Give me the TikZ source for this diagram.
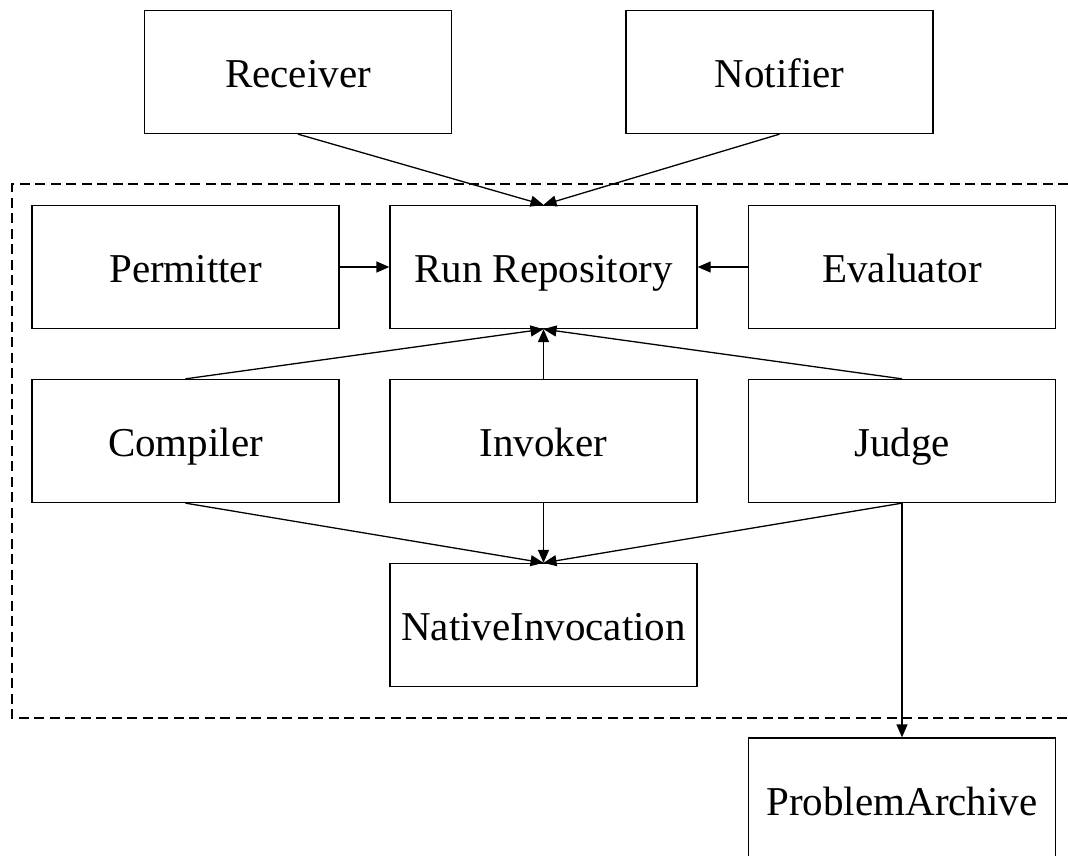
\documentclass[tikz,border=0pt]{standalone}
\usepackage{fontspec}
\setmainfont{Liberation Serif}
\usetikzlibrary{arrows.meta}
\begin{document}
\begin{tikzpicture}[x=1pt,y=-1pt,
  box/.style={draw,line width=1.3pt,rectangle,minimum width=307pt,minimum height=123pt,inner sep=0pt,text height=31pt,text depth=0pt,font=\fontsize{41}{49}\selectfont},
  conn/.style={line width=1.3pt,-{Triangle[length=13pt,width=11pt]}},
  group/.style={line width=2pt,dash pattern=on 10pt off 5.5pt}]
\useasboundingbox (0,0) rectangle (1068,856);
\node[box] (rec) at (298,72) {Receiver};
\node[box] (not) at (779.5,72) {Notifier};
\node[box] (per) at (185.5,267) {Permitter};
\node[box] (run) at (543.5,267) {Run Repository};
\node[box] (eva) at (902,267) {Evaluator};
\node[box] (com) at (185.5,441) {Compiler};
\node[box] (inv) at (543.5,441) {Invoker};
\node[box] (jud) at (902,441) {Judge};
\node[box] (nat) at (543.5,625) {NativeInvocation};
\node[box] (pro) at (902,799.5) {ProblemArchive};
\coordinate (g1) at (1068,184);
\coordinate (g2) at (12,184);
\coordinate (g3) at (12,718);
\coordinate (g4) at (1068,718);
\draw[group] (g1) -- (g2) -- (g3) -- (g4);
\draw[conn] (rec.south) -- (run.north);
\draw[conn] (not.south) -- (run.north);
\draw[conn] (per.east) -- (run.west);
\draw[conn] (eva.west) -- (run.east);
\draw[conn] (com.north) -- (run.south);
\draw[conn] (inv.north) -- (run.south);
\draw[conn] (jud.north) -- (run.south);
\draw[conn] (com.south) -- (nat.north);
\draw[conn] (inv.south) -- (nat.north);
\draw[conn] (jud.south) -- (nat.north);
\draw[conn] (jud.south) -- (pro.north);
\end{tikzpicture}
\end{document}
